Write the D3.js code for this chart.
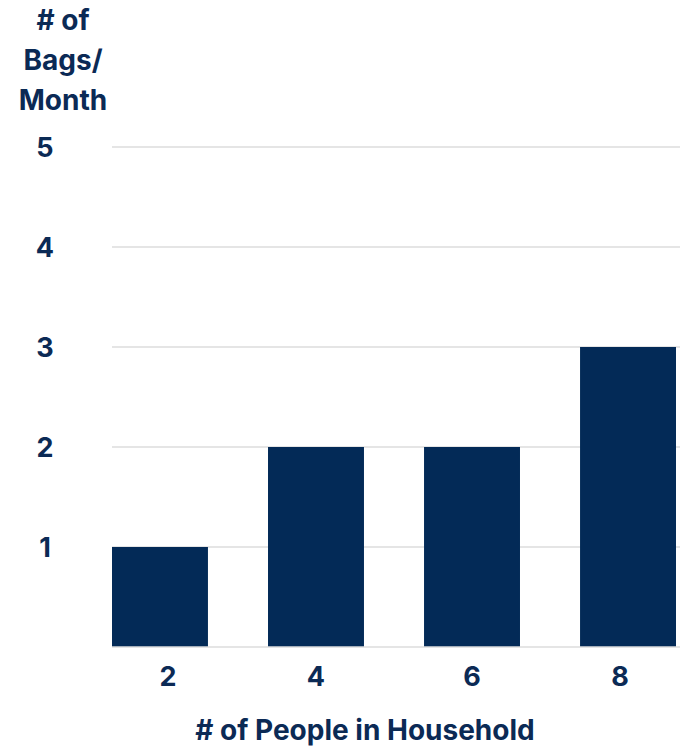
<!DOCTYPE html>
<html><head><meta charset="utf-8">
<script src="https://cdn.jsdelivr.net/npm/d3@7"></script>
<style>body{margin:0;background:#fff}</style>
</head><body><svg id="chart"></svg>
<script>
var categories = ["2", "4", "6", "8"];
var bags = [1, 2, 2, 3];
var yTicks = [1, 2, 3, 4, 5];
var yTitle = ["# of", "Bags/", "Month"];
var xTitle = "# of People in Household";

var width = 680, height = 750,
    ink = "#0b2a55", barColor = "#032a57",
    font = "Inter, 'Open Sans', sans-serif";

var svg = d3.select("#chart").attr("width", width).attr("height", height);

var x = d3.scaleBand().domain(categories).range([112, 676])
    .paddingInner(0.385).paddingOuter(0);
var y = d3.scaleLinear().domain([0, 5]).range([647, 147]);

// gridlines
svg.append("g").selectAll("line").data(yTicks).enter().append("line")
    .attr("x1", 112).attr("x2", 680)
    .attr("y1", function(d) { return y(d); }).attr("y2", function(d) { return y(d); })
    .attr("stroke", "#dcdcdc").attr("stroke-width", 1.5);

svg.selectAll("rect.bar").data(bags).enter().append("rect")
    .attr("class", "bar")
    .attr("x", function(_, i) { return x(categories[i]); })
    .attr("width", x.bandwidth())
    .attr("y", function(d) { return y(d); })
    .attr("height", function(d) { return y(0) - y(d); })
    .attr("fill", barColor);

// baseline
svg.append("line").attr("x1", 112).attr("x2", 680).attr("y1", y(0)).attr("y2", y(0))
    .attr("stroke", "#dcdcdc").attr("stroke-width", 1.5);

var text = function(sel) {
    return sel.attr("fill", ink).attr("font-family", font).attr("font-weight", 700);
};

svg.append("g").selectAll("text").data(yTicks).enter().append("text")
    .call(text).attr("x", 45).attr("y", function(d) { return y(d); })
    .attr("dy", "0.36em").attr("text-anchor", "middle").attr("font-size", 27)
    .text(function(d) { return d; });

svg.append("g").selectAll("text").data(categories).enter().append("text")
    .call(text).attr("x", function(d) { return x(d) + x.bandwidth() / 2 + (d === "2" ? 8 : 0) - (d === "8" ? 8 : 0); })
    .attr("y", 676).attr("dy", "0.36em").attr("text-anchor", "middle").attr("font-size", 27)
    .text(function(d) { return d; });

svg.append("g").selectAll("text").data(yTitle).enter().append("text")
    .call(text).attr("x", 63).attr("y", function(_, i) { return 20 + i * 40; })
    .attr("dy", "0.36em").attr("text-anchor", "middle").attr("font-size", 28)
    .text(function(d) { return d; });

svg.append("text").call(text).attr("x", 365).attr("y", 730).attr("dy", "0.36em")
    .attr("text-anchor", "middle").attr("font-size", 28).text(xTitle);
</script>
</body></html>
